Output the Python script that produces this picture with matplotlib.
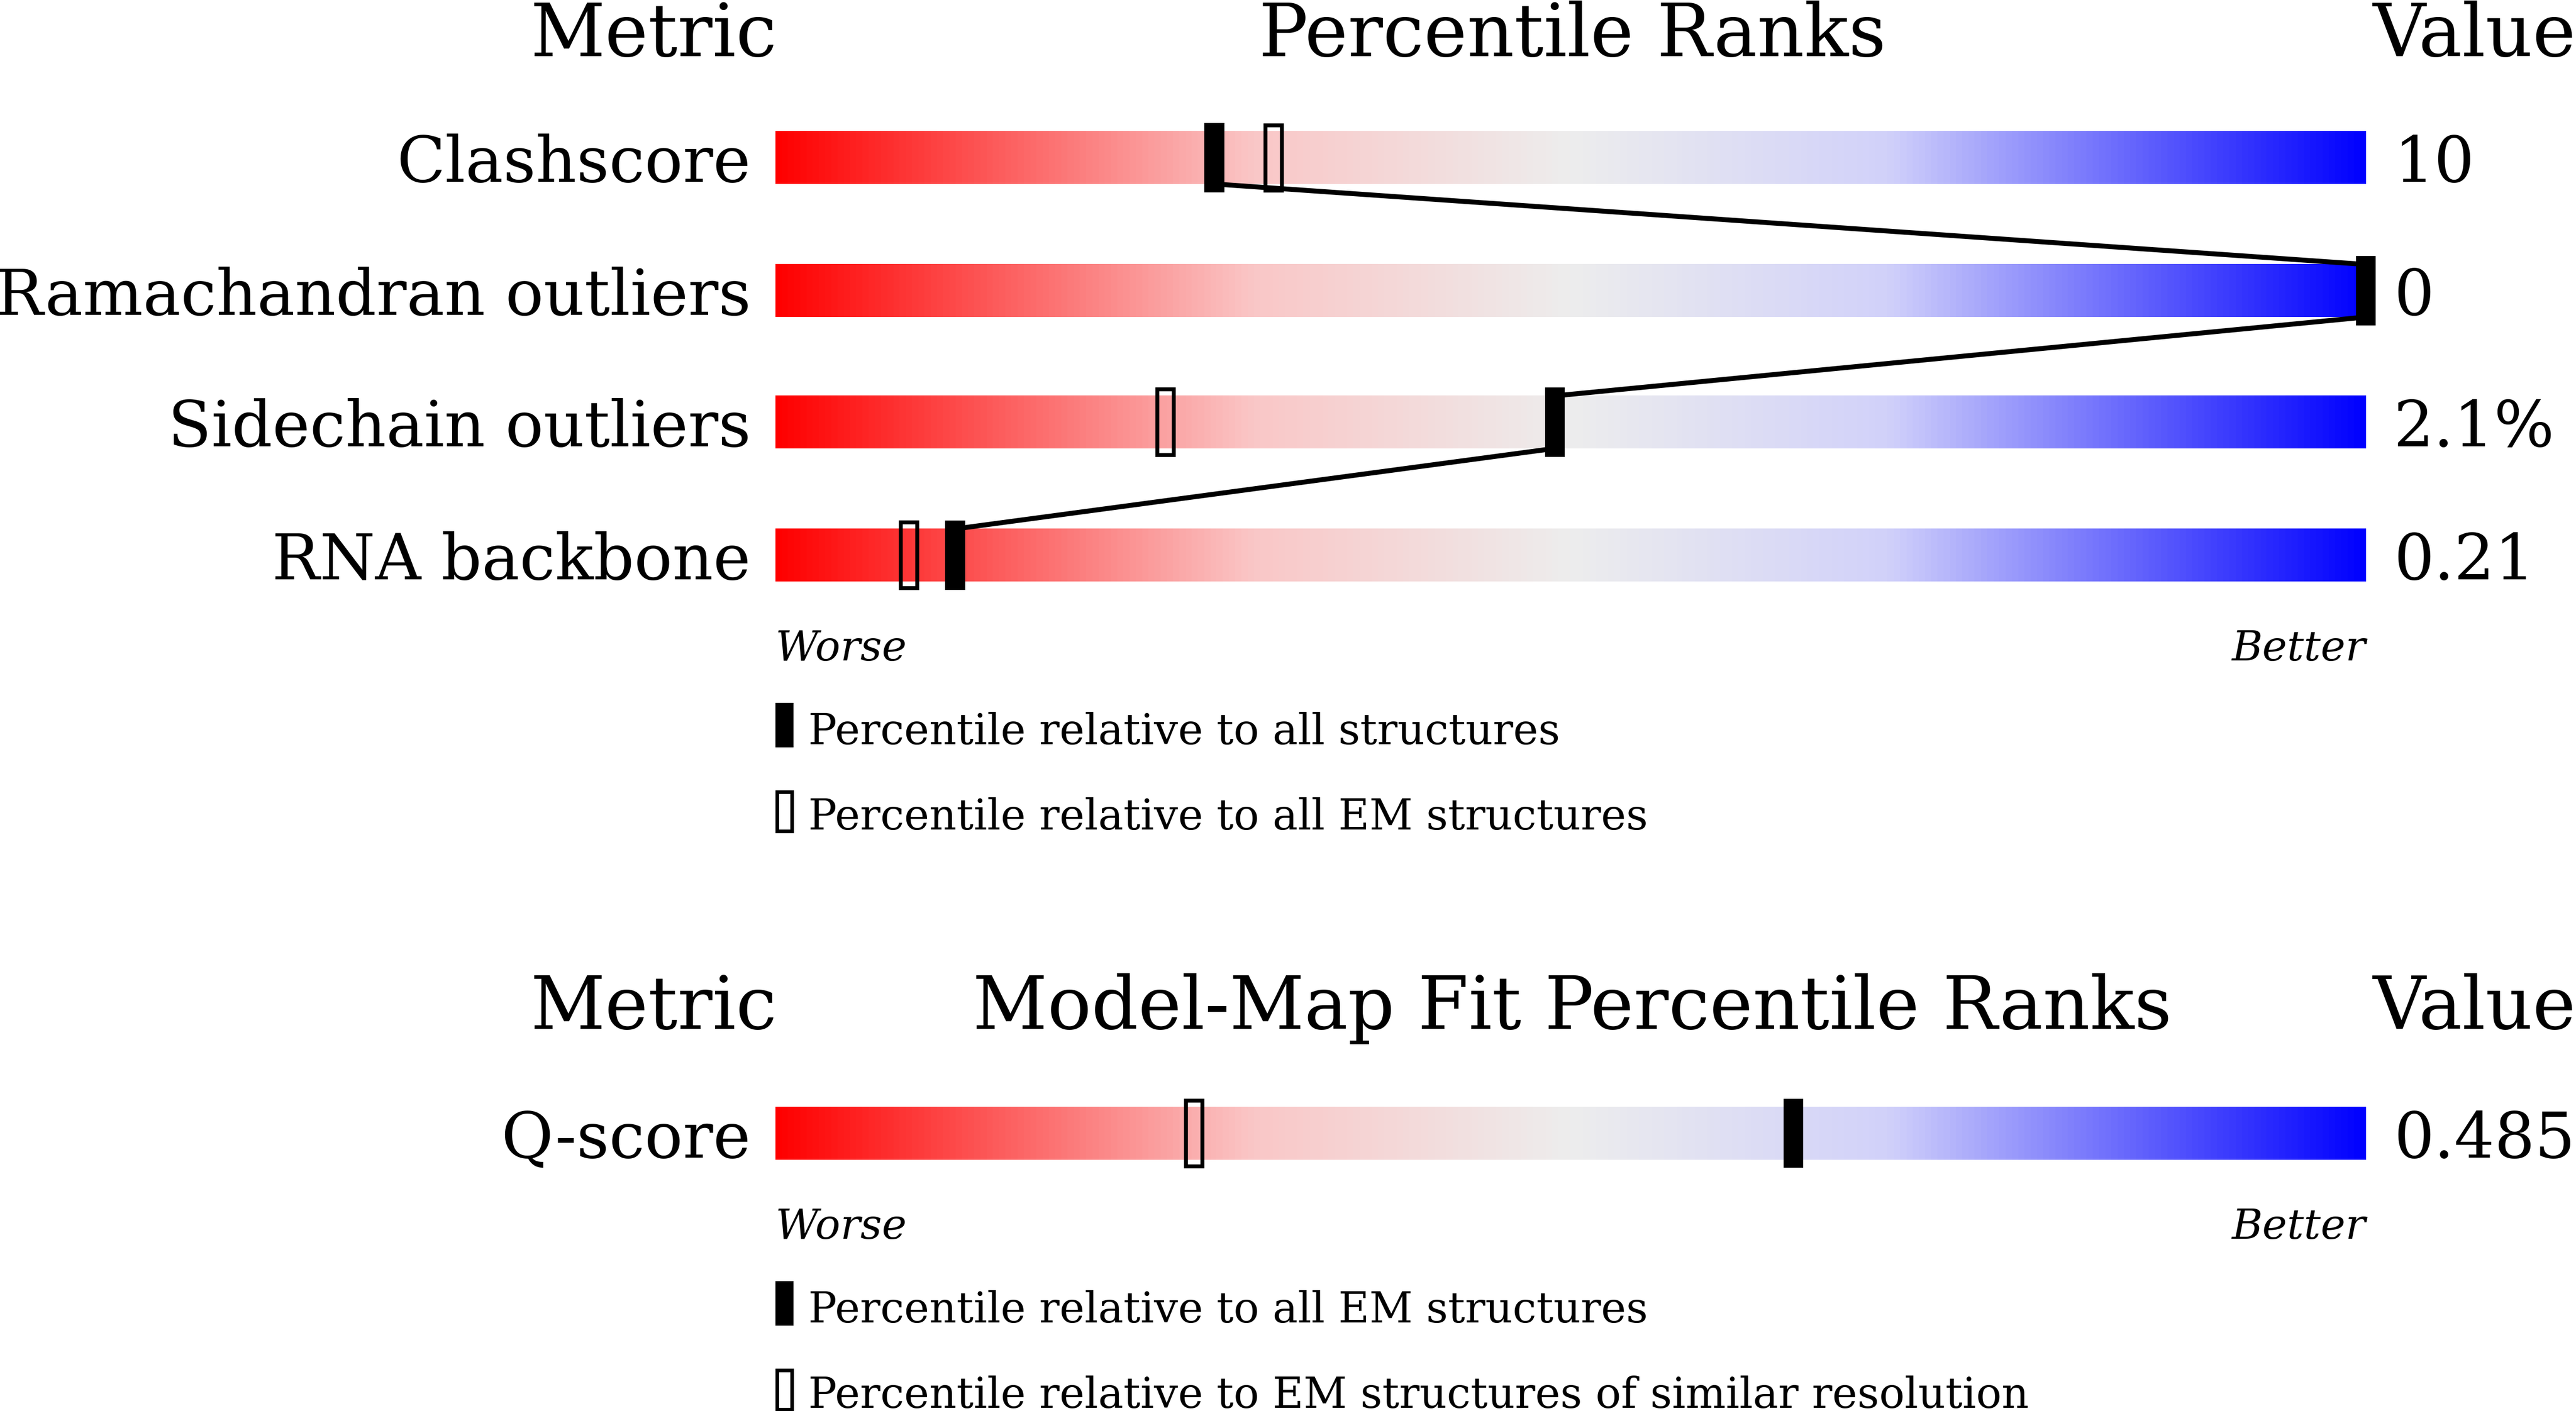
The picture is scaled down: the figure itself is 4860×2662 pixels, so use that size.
import numpy as np
import matplotlib
matplotlib.use("Agg")
import matplotlib.pyplot as plt
from matplotlib.colors import LinearSegmentedColormap
from matplotlib.patches import Rectangle

metrics = ["Clashscore", "Ramachandran outliers", "Sidechain outliers", "RNA backbone"]
values = ["10", "0", "2.1%", "0.21"]
pct_all = [27.6, 100.0, 49.0, 11.3]
pct_em = [31.3, None, 24.5, 8.4]
fit_metrics = ["Q-score"]
fit_values = ["0.485"]
fit_pct_em = [64.0]
fit_pct_res = [26.3]

S = 4860 / 1568
W, H = 4860, 2662
fig = plt.figure(figsize=(W / 100, H / 100), dpi=100)
ax = fig.add_axes([0, 0, 1, 1])
ax.set_xlim(0, 1568)
ax.set_ylim(859, 0)
ax.axis("off")

cmap = LinearSegmentedColormap.from_list("g", [
    (0.0, (1, 0, 0)), (0.3, (0.98, 0.78, 0.78)), (0.5, (0.93, 0.93, 0.93)),
    (0.7, (0.82, 0.82, 0.98)), (1.0, (0, 0, 1))])
grad = np.linspace(0, 1, 512).reshape(1, -1)
X0, X1 = 472, 1440
fs = lambda px: px * S * 0.72
serif = "DejaVu Serif"

def px(p):
    return X0 + (X1 - X0) * p / 100

def bar_row(yc, label, val, solid, hollow):
    ax.imshow(grad, cmap=cmap, aspect="auto", extent=(X0, X1, yc + 16, yc - 16), zorder=1)
    ax.text(457, yc + 4, label, ha="right", va="center", fontsize=fs(38.6), family=serif)
    ax.text(1457, yc + 4, val, ha="left", va="center", fontsize=fs(38.6), family=serif)
    if hollow is not None:
        ax.add_patch(Rectangle((px(hollow) - 5, yc - 20), 10, 40, fill=False, ec="black", lw=2.4 * S * 0.72, zorder=3))
    ax.add_patch(Rectangle((px(solid) - 6, yc - 21), 12, 42, fc="black", ec="none", zorder=4))

def header(y, mid):
    ax.text(473, y + 2, "Metric", ha="right", va="center", fontsize=fs(44.5), family=serif)
    ax.text(957, y + 2, mid, ha="center", va="center", fontsize=fs(44.5), family=serif)
    ax.text(1568, y + 2, "Value", ha="right", va="center", fontsize=fs(44.5), family=serif)

def legend(y, t1, t2):
    ax.text(X0, y + 2, "Worse", ha="left", va="center", fontsize=fs(25.5), family=serif, style="italic")
    ax.text(X1, y + 2, "Better", ha="right", va="center", fontsize=fs(25.5), family=serif, style="italic")
    ax.add_patch(Rectangle((472, y + 35), 11, 27, fc="black", ec="none"))
    ax.text(492, y + 53, t1, ha="left", va="center", fontsize=fs(25.8), family=serif)
    ax.add_patch(Rectangle((473, y + 89), 9, 24, fill=False, ec="black", lw=2.2 * S * 0.72))
    ax.text(492, y + 105, t2, ha="left", va="center", fontsize=fs(25.8), family=serif)

header(20, "Percentile Ranks")
ys = [96, 177, 257, 338]
for yc, m, v, s, h in zip(ys, metrics, values, pct_all, pct_em):
    bar_row(yc, m, v, s, h)
for i in range(len(ys) - 1):
    ax.plot([px(pct_all[i]), px(pct_all[i + 1])], [ys[i] + 16, ys[i + 1] - 16],
            color="black", lw=3 * S * 0.72, zorder=5, solid_capstyle="butt")
legend(393, "Percentile relative to all structures", "Percentile relative to all EM structures")

header(612, "Model-Map Fit Percentile Ranks")
for m, v, s, h in zip(fit_metrics, fit_values, fit_pct_em, fit_pct_res):
    bar_row(690, m, v, s, h)
legend(745, "Percentile relative to all EM structures", "Percentile relative to EM structures of similar resolution")

fig.savefig("out.png", dpi=100)
